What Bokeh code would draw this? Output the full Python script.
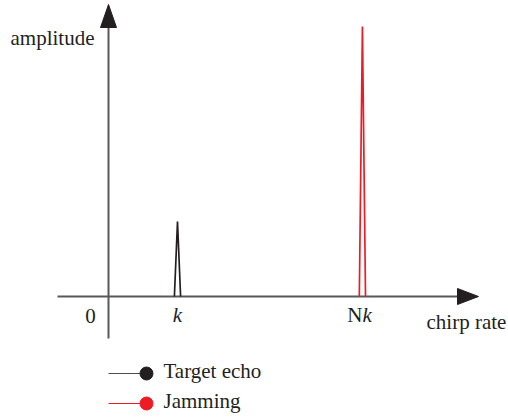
from bokeh.plotting import figure
from bokeh.core.properties import value
from bokeh.embed import file_html
from bokeh.resources import INLINE

# ---- data ----
series = ["Target echo", "Jamming"]
k = 1.0
N = 3.68
chirp_rates = [k, N * k]          # peak positions (k, Nk)
amplitudes = [1.0, 3.6]           # peak heights
colors = ["#231f20", "#ed1c24"]
tick_labels = ["0", "k", "N"]
axis_labels = ["amplitude", "chirp rate"]
half_width = 0.045                # half base width of each peak

# ---- layout helpers (page pixel -> data) ----
W, H = 508, 417
OX, OY = 108, 296   # origin in picture pixels
SX, SY = 69.0, 75.0


def ux(px):
    return (px - OX) / SX


def uy(py):
    return (OY - py) / SY


FONT = value("Liberation Serif")
FS = value("21px")
TXT = "#231f20"

p = figure(width=W, height=H, x_range=(ux(0), ux(W)), y_range=(uy(H), uy(0)),
           output_backend="svg", toolbar_location=None, min_border=0,
           x_axis_location=None, y_axis_location=None)
p.grid.visible = False
p.outline_line_color = None
p.background_fill_color = "white"

axis_col = "#58595b"
head_col = "#231f20"

# axes
p.line([0, 0], [uy(338), uy(27)], line_color=axis_col, line_width=2)
p.line([ux(57), ux(458)], [0, 0], line_color=axis_col, line_width=2)
p.patch([ux(100), ux(116), ux(108)], [uy(27), uy(27), uy(4)],
        fill_color=head_col, line_color=head_col)
p.patch([ux(457), ux(457), ux(478)], [uy(288), uy(304), uy(296)],
        fill_color=head_col, line_color=head_col)

# peaks
for xc, a, c in zip(chirp_rates, amplitudes, colors):
    p.line([xc - half_width, xc, xc + half_width], [0, a, 0],
           line_color=c, line_width=1.7)

# axis texts (middle-baseline, positioned at visual centres)
p.text(x=[ux(10)], y=[uy(37)], text=[axis_labels[0]], text_font=FONT,
       text_font_size=FS, text_color=TXT, text_align="left",
       text_baseline="middle")
p.text(x=[ux(426)], y=[uy(321)], text=[axis_labels[1]], text_font=FONT,
       text_font_size=FS, text_color=TXT, text_align="left",
       text_baseline="middle")

# tick labels
p.text(x=[ux(90)], y=[uy(315)], text=[tick_labels[0]], text_font=FONT,
       text_font_size=FS, text_color=TXT, text_align="center",
       text_baseline="middle")
p.text(x=[chirp_rates[0]], y=[uy(314)], text=[tick_labels[1]], text_font=FONT,
       text_font_size=FS, text_font_style="italic", text_color=TXT,
       text_align="center", text_baseline="middle")
p.text(x=[chirp_rates[1]], y=[uy(314)], text=[tick_labels[2]], text_font=FONT,
       text_font_size=FS, text_color=TXT, text_align="right",
       text_baseline="middle")
p.text(x=[chirp_rates[1]], y=[uy(314)], text=[tick_labels[1]], text_font=FONT,
       text_font_size=FS, text_font_style="italic", text_color=TXT,
       text_align="left", text_baseline="middle")

# legend
leg_y = [uy(373), uy(403)]
leg_txt_y = [uy(370), uy(400)]
line_cols = ["#4d4d4d", "#ed1c24"]
for name, c, lc, yy, ty in zip(series, colors, line_cols, leg_y, leg_txt_y):
    p.line([ux(108), ux(145)], [yy, yy], line_color=lc, line_width=1.2)
    p.scatter([ux(146)], [yy], size=13, fill_color=c, line_color=c)
    p.text(x=[ux(163)], y=[ty], text=[name], text_font=FONT, text_font_size=FS,
           text_color=TXT, text_align="left", text_baseline="middle")

open("out.html", "w").write(file_html(p, INLINE))
